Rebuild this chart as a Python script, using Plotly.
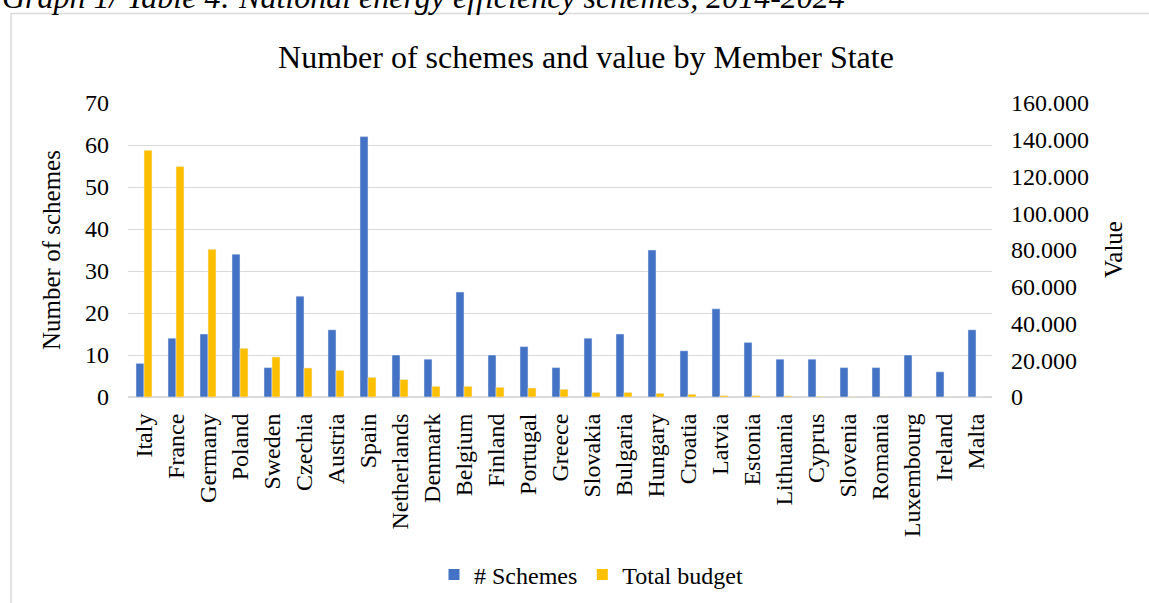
import plotly.graph_objects as go

countries = ["Italy", "France", "Germany", "Poland", "Sweden", "Czechia", "Austria", "Spain",
             "Netherlands", "Denmark", "Belgium", "Finland", "Portugal", "Greece", "Slovakia",
             "Bulgaria", "Hungary", "Croatia", "Latvia", "Estonia", "Lithuania", "Cyprus",
             "Slovenia", "Romania", "Luxembourg", "Ireland", "Malta"]
schemes = [8, 14, 15, 34, 7, 24, 16, 62, 10, 9, 25, 10, 12, 7, 14, 15, 35, 11, 21, 13, 9, 9,
           7, 7, 10, 6, 16]
budget = [134300, 125500, 80400, 26500, 21800, 15800, 14500, 10700, 9500, 5800, 5800, 5300,
          4900, 4200, 2500, 2500, 2000, 1500, 800, 800, 600, 300, 200, 100, 200, 100, 50]

FONT = "Liberation Serif, Times New Roman, serif"
BLUE, YELLOW = "#4472C4", "#FFC000"
W, H = 1149, 603
L, R, T, B = 128, 157, 103, 206
PW, PH = W - L - R, H - T - B


def px_x(px):
    return (px - L) / PW


def px_y(py):
    return (H - B - py) / PH


fig = go.Figure()
fig.add_trace(go.Bar(x=countries, y=schemes, name="# Schemes", marker_color=BLUE,
                     offsetgroup="a", yaxis="y", showlegend=False))
fig.add_trace(go.Bar(x=countries, y=budget, name="Total budget", marker_color=YELLOW,
                     offsetgroup="b", yaxis="y2", showlegend=False))
# legend entries with square keys
fig.add_trace(go.Scatter(x=[None], y=[None], mode="markers", name="# Schemes",
                         marker=dict(symbol="square", size=11, color=BLUE)))
fig.add_trace(go.Scatter(x=[None], y=[None], mode="markers", name="Total budget",
                         marker=dict(symbol="square", size=11, color=YELLOW)))

fig.update_layout(
    width=W, height=H,
    margin=dict(l=L, r=R, t=T, b=B, autoexpand=False),
    paper_bgcolor="white", plot_bgcolor="white",
    separators=",.",
    barmode="group", bargap=0.5, bargroupgap=0,
    font=dict(family=FONT, size=24, color="#000000"),
    title=dict(text="Number of schemes and value by Member State", xref="paper", x=px_x(586),
               xanchor="center", yref="container", y=1 - 57 / H, yanchor="middle",
               font=dict(family=FONT, size=32, color="#000000")),
    xaxis=dict(tickangle=-90, showgrid=False, showline=True, linecolor="#D9D9D9", linewidth=1,
               ticks="", ticklabelstandoff=6, tickfont=dict(size=24)),
    yaxis=dict(range=[0, 70], dtick=10, showgrid=True, gridcolor="#D9D9D9", gridwidth=1,
               zeroline=True, zerolinecolor="#D9D9D9", ticks="", ticklabelstandoff=18,
               tickfont=dict(size=24)),
    yaxis2=dict(range=[0, 160000], dtick=20000, overlaying="y", side="right", showgrid=False,
                zeroline=False, tickformat=",.0f", ticks="", ticklabelstandoff=18,
                tickfont=dict(size=24)),
    showlegend=True,
    legend=dict(orientation="h", x=px_x(591), xanchor="center", y=px_y(575), yanchor="middle",
                font=dict(family=FONT, size=24), itemwidth=30, traceorder="normal",
                itemclick=False),
    annotations=[
        dict(text="Number of schemes", textangle=-90, x=px_x(51), y=0.5, xref="paper",
             yref="paper", showarrow=False, xanchor="center", yanchor="middle",
             font=dict(family=FONT, size=25)),
        dict(text="Value", textangle=-90, x=px_x(1113), y=0.5, xref="paper", yref="paper",
             showarrow=False, xanchor="center", yanchor="middle", font=dict(family=FONT, size=25)),
        dict(text="<i>Graph 1/ Table 4: National energy efficiency schemes, 2014-2024</i>",
             x=px_x(0), y=px_y(-3), xref="paper", yref="paper", showarrow=False,
             xanchor="left", yanchor="middle", font=dict(family=FONT, size=32)),
    ],
    shapes=[dict(type="rect", xref="paper", yref="paper", x0=px_x(11), y0=px_y(13.5),
                 x1=px_x(1170), y1=px_y(620), line=dict(color="#D9D9D9", width=1.5),
                 layer="below")],
)

fig.write_html("out.html")
